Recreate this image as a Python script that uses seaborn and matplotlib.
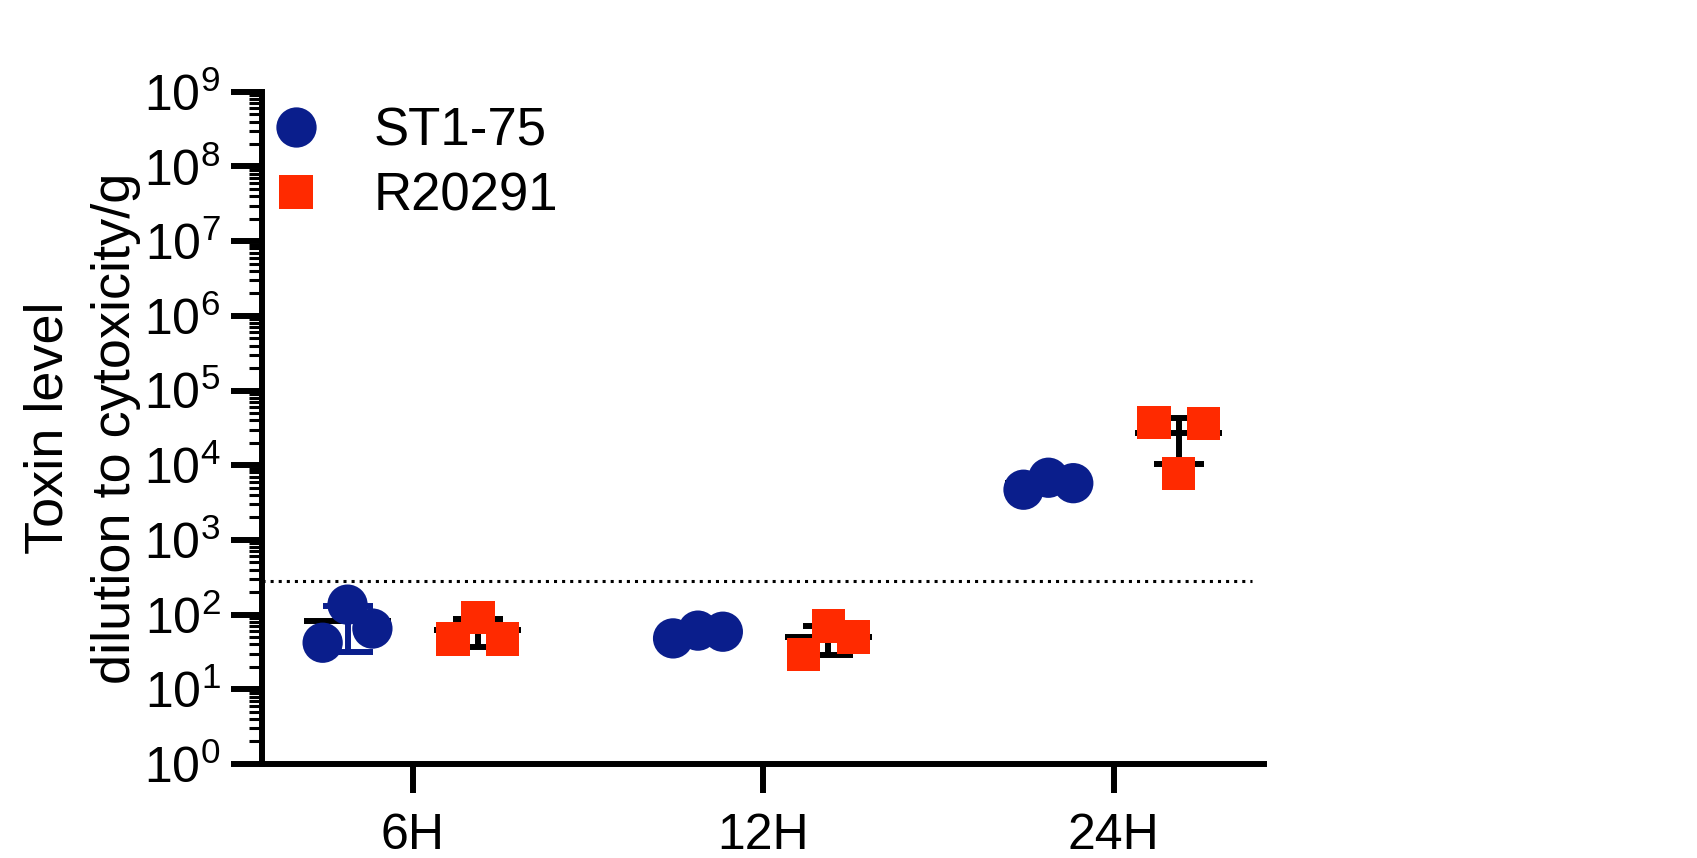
import numpy as np
import pandas as pd
import seaborn as sns
import matplotlib.pyplot as plt
from matplotlib.lines import Line2D
from matplotlib.ticker import LogLocator, NullFormatter

# data
times = ["6H", "12H", "24H"]
strains = ["ST1-75", "R20291"]
st1_75 = [[42, 136, 65], [48, 61, 59], [4700, 6800, 5750]]
r20291 = [[47, 91, 47], [29, 70, 50], [37000, 7800, 36000]]
threshold = 280

colors = {"ST1-75": "#0A1E8C", "R20291": "#FF2A00"}
markers = {"ST1-75": "o", "R20291": "s"}
msize = {"ST1-75": 29, "R20291": 24}

rows = []
for strain, vals in zip(strains, [st1_75, r20291]):
    for i, t in enumerate(times):
        for j, v in enumerate(vals[i]):
            rows.append({"time": t, "strain": strain, "rep": j, "toxin": v})
df = pd.DataFrame(rows)

# dodge the strains within a time point and spread replicates a bit
dodge = {"ST1-75": -0.186, "R20291": 0.186}
df["xpos"] = (df["time"].map({t: i for i, t in enumerate(times)})
              + df["strain"].map(dodge) + (df["rep"] - 1) * 0.071)

sns.set_style("ticks")
plt.rcParams["font.family"] = ["Liberation Sans", "DejaVu Sans"]
plt.rcParams["mathtext.default"] = "regular"
for k in ["text.color", "axes.labelcolor", "xtick.color", "ytick.color", "axes.edgecolor"]:
    plt.rcParams[k] = "black"

fig = plt.figure(figsize=(16.97, 8.58), dpi=100)
ax = fig.add_axes([0.1544, 0.1096, 0.5906, 0.7834])

# mean line + SD bars under the points
for (strain, t), g in df.groupby(["strain", "time"]):
    xc = times.index(t) + dodge[strain]
    m = g["toxin"].mean()
    sd = g["toxin"].std()
    ecol = colors["ST1-75"] if strain == "ST1-75" else "black"
    ax.errorbar(xc, m, yerr=sd, color=ecol, elinewidth=4.3, capsize=18,
                capthick=4.3, zorder=1)
    ax.hlines(m, xc - 0.124, xc + 0.124, color="black", lw=4.3, zorder=2)

for strain in strains:
    sub = df[df["strain"] == strain]
    sns.scatterplot(data=sub, x="xpos", y="toxin", marker=markers[strain],
                    s=msize[strain] ** 2, color=colors[strain], edgecolor="none",
                    linewidth=0, ax=ax, zorder=3, legend=False)

ax.axhline(threshold, xmin=0, xmax=0.988, ls=":", color="black", lw=2.2, zorder=0)

ax.set_yscale("log")
ax.set_ylim(1, 1e9)
ax.set_xlim(-0.43, 2.43)
ax.yaxis.set_major_locator(LogLocator(base=10, numticks=20))
ax.yaxis.set_minor_locator(LogLocator(base=10, subs=np.arange(2, 10), numticks=200))
ax.yaxis.set_minor_formatter(NullFormatter())
ax.set_xticks(range(len(times)))
ax.set_xticklabels(times)
ax.set_xlabel("")
ax.set_ylabel("Toxin level\ndilution to cytoxicity/g", fontsize=39, labelpad=2,
              linespacing=1.45)

ax.tick_params(axis="both", which="major", labelsize=36, width=4.3, color="black")
ax.tick_params(axis="y", which="major", length=22, pad=8)
ax.tick_params(axis="y", which="minor", length=9.5, width=2.2)
ax.tick_params(axis="x", which="major", length=21, pad=14)
for side in ["left", "bottom"]:
    ax.spines[side].set_linewidth(4.3)
sns.despine(ax=ax)

handles = [Line2D([], [], ls="", marker=markers[s], color=colors[s],
                  markeredgewidth=0, markersize=msize[s]) for s in strains]
ax.legend(handles, strains, loc="upper left", bbox_to_anchor=(0.008, 0.978),
          frameon=False, fontsize=38, handlelength=1.0, handletextpad=0.97,
          labelspacing=0.28, borderpad=0, borderaxespad=0)

fig.savefig("out.png", dpi=100)
